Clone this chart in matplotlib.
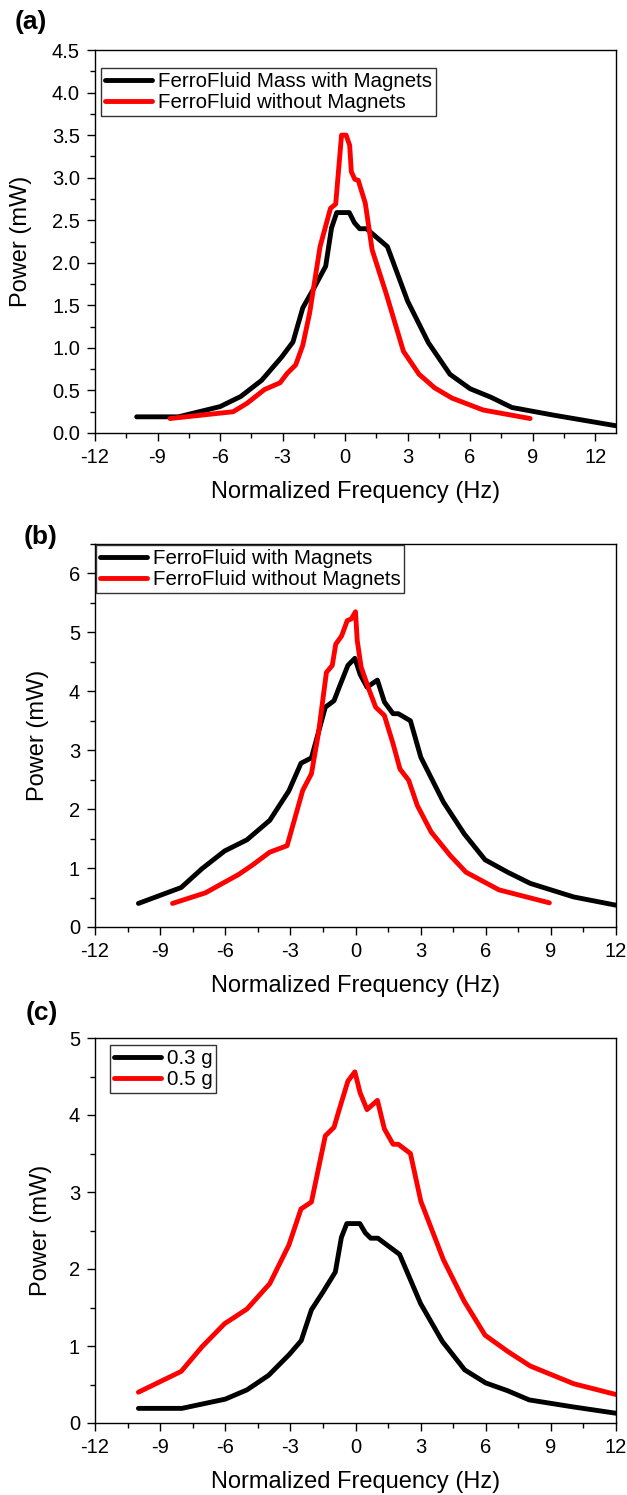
import matplotlib
matplotlib.use("Agg")
import matplotlib.pyplot as plt
from matplotlib.ticker import MultipleLocator

plt.rcParams['font.family'] = ['Liberation Sans', 'DejaVu Sans']
plt.rcParams['axes.unicode_minus'] = False

# ---- data ----
# 0.3 g / FerroFluid Mass with Magnets
x_mass = [-10.0, -8.0, -6.0, -5.0, -4.0, -3.05, -2.5, -2.03, -1.5, -0.93, -0.65, -0.4, 0.2, 0.45, 0.7, 1.03, 2.03, 3.0, 4.0, 5.03, 6.0, 7.0, 8.0, 10.0, 13.0]
y_mass = [0.19, 0.19, 0.31, 0.43, 0.62, 0.89, 1.07, 1.47, 1.70, 1.96, 2.41, 2.59, 2.59, 2.47, 2.40, 2.40, 2.19, 1.55, 1.06, 0.69, 0.52, 0.42, 0.30, 0.21, 0.085]

# FerroFluid without Magnets (a)
x_nomag_a = [-8.4, -5.37, -4.7, -3.87, -3.12, -2.78, -2.37, -2.03, -1.7, -1.2, -0.7, -0.45, -0.17, 0.05, 0.22, 0.3, 0.47, 0.63, 0.97, 1.3, 1.97, 2.8, 3.55, 4.3, 5.13, 6.63, 8.88]
y_nomag_a = [0.17, 0.25, 0.35, 0.51, 0.59, 0.70, 0.80, 1.03, 1.41, 2.19, 2.64, 2.69, 3.50, 3.50, 3.38, 3.07, 2.98, 2.97, 2.70, 2.15, 1.64, 0.96, 0.69, 0.53, 0.41, 0.27, 0.17]

# 0.5 g / FerroFluid with Magnets
x_mag = [-10.0, -8.03, -7.07, -6.03, -5.0, -3.95, -3.07, -2.51, -2.03, -1.39, -0.99, -0.75, -0.35, -0.03, 0.21, 0.53, 1.01, 1.33, 1.73, 1.97, 2.53, 3.01, 4.05, 5.01, 5.97, 7.01, 8.05, 10.05, 12.0]
y_mag = [0.40, 0.67, 0.99, 1.29, 1.48, 1.81, 2.31, 2.78, 2.87, 3.73, 3.84, 4.07, 4.44, 4.56, 4.29, 4.07, 4.19, 3.82, 3.62, 3.62, 3.50, 2.88, 2.12, 1.58, 1.14, 0.93, 0.74, 0.51, 0.37]

# FerroFluid without Magnets (b)
x_nomag_b = [-8.43, -6.91, -6.03, -5.39, -4.75, -3.95, -3.15, -2.43, -2.03, -1.71, -1.34, -1.07, -0.91, -0.64, -0.38, -0.19, 0.0, 0.08, 0.26, 0.61, 0.93, 1.33, 1.73, 2.05, 2.45, 2.85, 3.49, 4.37, 5.09, 6.61, 8.93]
y_nomag_b = [0.40, 0.58, 0.76, 0.89, 1.05, 1.27, 1.38, 2.32, 2.60, 3.28, 4.32, 4.44, 4.80, 4.94, 5.20, 5.23, 5.35, 4.86, 4.41, 4.04, 3.73, 3.59, 3.11, 2.68, 2.49, 2.06, 1.61, 1.21, 0.93, 0.63, 0.41]

labels_a = ["FerroFluid Mass with Magnets", "FerroFluid without Magnets"]
labels_b = ["FerroFluid with Magnets", "FerroFluid without Magnets"]
labels_c = ["0.3 g", "0.5 g"]
xticks = [-12, -9, -6, -3, 0, 3, 6, 9, 12]
xlabel = "Normalized Frequency (Hz)"
ylabel = "Power (mW)"

W, H = 627, 1495
fig = plt.figure(figsize=(W / 100, H / 100), dpi=100)

def rect(l, r, t, b):
    return [l / W, 1 - b / H, (r - l) / W, (b - t) / H]

axa = fig.add_axes(rect(95, 616, 50, 433))
axb = fig.add_axes(rect(95, 616, 544, 927))
axc = fig.add_axes(rect(95, 616, 1038, 1423))

LW = 3.5
TICKFS = 14.5
LABFS = 17
LEGFS = 14.8

def style(ax, xlim, ylim, ymaj, ymin, yfmt, ylab_x, hpx):
    ax.set_xlim(*xlim)
    ax.set_ylim(*ylim)
    ax.set_xticks(xticks)
    ax.xaxis.set_minor_locator(MultipleLocator(1.5))
    ax.yaxis.set_major_locator(MultipleLocator(ymaj))
    ax.yaxis.set_minor_locator(MultipleLocator(ymin))
    ax.yaxis.set_major_formatter(plt.FuncFormatter(lambda v, p: yfmt.format(v)))
    ax.tick_params(which='major', direction='out', length=5.8, width=1.0, labelsize=TICKFS, pad=5)
    ax.tick_params(which='minor', direction='out', length=3.6, width=1.0)
    ax.tick_params(top=False, right=False, which='both')
    for s in ax.spines.values():
        s.set_linewidth(1.0)
    ax.set_xlabel(xlabel, fontsize=LABFS)
    ax.set_ylabel(ylabel, fontsize=LABFS)
    ax.xaxis.set_label_coords(0.5, -48 / hpx)
    ax.yaxis.set_label_coords(ylab_x, 0.5)

def legend(ax, handles, labels, loc, anchor):
    lg = ax.legend(handles, labels, loc=loc, bbox_to_anchor=anchor, fontsize=LEGFS,
                   frameon=True, fancybox=False, framealpha=1, edgecolor='#333333',
                   handlelength=2.3, handletextpad=0.25, borderpad=0.2, labelspacing=0.1,
                   borderaxespad=0.0)
    lg.get_frame().set_linewidth(1.0)

kw = dict(lw=LW, solid_capstyle='round', solid_joinstyle='round')

# (a)
la1, = axa.plot(x_mass, y_mass, color='black', **kw)
la2, = axa.plot(x_nomag_a, y_nomag_a, color='red', **kw)
style(axa, (-12, 13), (0, 4.5), 0.5, 0.25, "{:.1f}", -0.12, 383)
legend(axa, [la1, la2], labels_a, 'upper left', (6 / 521, 1 - 18 / 383))

# (b)
lb1, = axb.plot(x_mag, y_mag, color='black', **kw)
lb2, = axb.plot(x_nomag_b, y_nomag_b, color='red', **kw)
style(axb, (-12, 12), (0, 6.5), 1, 0.5, "{:.0f}", -0.088, 383)
legend(axb, [lb1, lb2], labels_b, 'upper left', (1 / 521, 1 - 1 / 383))

# (c)
lc1, = axc.plot(x_mass, y_mass, color='black', **kw)
lc2, = axc.plot(x_mag, y_mag, color='red', **kw)
style(axc, (-12, 12), (0, 5), 1, 0.5, "{:.0f}", -0.083, 385)
legend(axc, [lc1, lc2], labels_c, 'upper left', (15 / 521, 1 - 7 / 385))

for txt, (px, py) in zip(["(a)", "(b)", "(c)"], [(15, 22), (24, 537), (26, 1013)]):
    fig.text(px / W, 1 - py / H, txt, fontsize=19, fontweight='bold', ha='left', va='center')

fig.savefig("out.png", dpi=100)
